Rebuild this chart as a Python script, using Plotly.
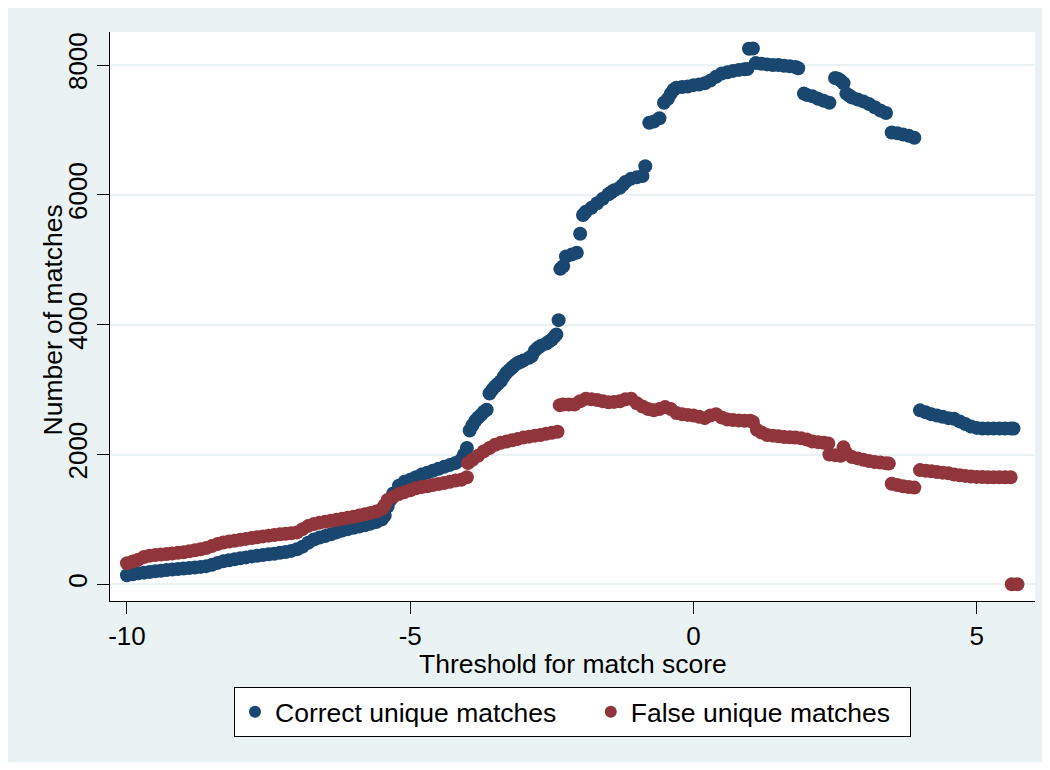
import plotly.graph_objects as go

# Threshold values (x) and number of matches (y)
correct_x = [
    -10.0, -9.9, -9.8, -9.7, -9.6, -9.5, -9.4, -9.3, -9.2, -9.1, -9.0, -8.9, -8.8,
    -8.7, -8.6, -8.5, -8.4, -8.3, -8.2, -8.1, -8.0, -7.9, -7.8, -7.7, -7.6, -7.5,
    -7.4, -7.3, -7.2, -7.1, -7.0, -6.9, -6.8, -6.7, -6.6, -6.5, -6.4, -6.3, -6.2,
    -6.1, -6.0, -5.9, -5.8, -5.7, -5.6, -5.5, -5.45, -5.4, -5.35, -5.3, -5.2, -5.1,
    -5.0, -4.9, -4.8, -4.7, -4.6, -4.5, -4.4, -4.3, -4.2, -4.1, -4.05, -4.0, -3.95,
    -3.9, -3.85, -3.8, -3.75, -3.7, -3.65, -3.6, -3.55, -3.5, -3.45, -3.4, -3.35,
    -3.3, -3.25, -3.2, -3.15, -3.1, -3.05, -3.0, -2.9, -2.85, -2.8, -2.75, -2.7,
    -2.6, -2.55, -2.5, -2.45, -2.42, -2.38, -2.35, -2.3, -2.25, -2.15, -2.06, -2.0,
    -1.95, -1.9, -1.8, -1.7, -1.6, -1.5, -1.45, -1.4, -1.3, -1.25, -1.2, -1.1, -1.0,
    -0.9, -0.85, -0.78, -0.7, -0.6, -0.52, -0.45, -0.4, -0.35, -0.3, -0.2, -0.1,
    0.0, 0.1, 0.2, 0.3, 0.4, 0.5, 0.6, 0.7, 0.8, 0.9, 0.95, 0.98, 1.05, 1.1, 1.2,
    1.3, 1.4, 1.5, 1.6, 1.7, 1.8, 1.85, 1.95, 2.0, 2.1, 2.2, 2.3, 2.4, 2.5, 2.55,
    2.6, 2.65, 2.7, 2.75, 2.8, 2.9, 3.0, 3.1, 3.2, 3.3, 3.4, 3.5, 3.6, 3.7, 3.8,
    3.9, 4.0, 4.1, 4.2, 4.3, 4.4, 4.5, 4.6, 4.7, 4.8, 4.9, 5.0, 5.1, 5.2, 5.3, 5.4,
    5.5, 5.6, 5.65,
]
correct_y = [
    140, 155, 170, 180, 190, 200, 210, 220, 228, 235, 242, 250, 258,
    268, 280, 300, 330, 355, 370, 385, 400, 415, 430, 440, 450, 462,
    472, 485, 498, 515, 540, 580, 640, 690, 720, 745, 770, 800, 830,
    850, 870, 890, 910, 935, 960, 1000, 1060, 1200, 1300, 1400, 1520, 1580,
    1610, 1650, 1690, 1720, 1750, 1780, 1810, 1840, 1870, 1920, 2000, 2100, 2370,
    2450, 2520, 2570, 2610, 2660, 2690, 2940, 3000, 3050, 3090, 3130, 3200,
    3260, 3300, 3340, 3380, 3410, 3430, 3450, 3490, 3520, 3600, 3640, 3670,
    3710, 3740, 3770, 3820, 3850, 4070, 4860, 4900, 5050, 5080, 5110, 5400,
    5690, 5740, 5800, 5870, 5940, 6010, 6040, 6070, 6110, 6150, 6200, 6250, 6270,
    6290, 6440, 7110, 7130, 7180, 7420, 7480, 7560, 7620, 7650, 7660, 7670,
    7690, 7700, 7720, 7760, 7820, 7870, 7890, 7910, 7925, 7935, 7940, 8250, 8255, 8030, 8020,
    8010, 8000, 8000, 7990, 7980, 7970, 7950, 7560, 7540, 7520, 7480, 7450, 7420, 7800, 7790,
    7760, 7720, 7560, 7530, 7500, 7470, 7440, 7400, 7350, 7300, 7260, 6960, 6950, 6930, 6910,
    6880, 2680, 2650, 2620, 2600, 2580, 2560, 2550, 2510, 2470, 2430, 2410, 2400, 2400, 2400, 2400,
    2400, 2400, 2400,
]

false_x = [
    -10.0, -9.9, -9.8, -9.7, -9.6, -9.5, -9.4, -9.3, -9.2, -9.1, -9.0, -8.9, -8.8,
    -8.7, -8.6, -8.5, -8.4, -8.3, -8.2, -8.1, -8.0, -7.9, -7.8, -7.7, -7.6, -7.5,
    -7.4, -7.3, -7.2, -7.1, -7.0, -6.9, -6.8, -6.7, -6.6, -6.5, -6.4, -6.3, -6.2,
    -6.1, -6.0, -5.9, -5.8, -5.7, -5.6, -5.5, -5.45, -5.4, -5.3, -5.2, -5.1, -5.0,
    -4.9, -4.8, -4.7, -4.6, -4.5, -4.4, -4.3, -4.2, -4.1, -4.0, -3.98, -3.9, -3.8,
    -3.7, -3.6, -3.5, -3.4, -3.3, -3.2, -3.1, -3.0, -2.9, -2.8, -2.7, -2.6, -2.5,
    -2.4, -2.36, -2.3, -2.2, -2.1, -2.0, -1.9, -1.8, -1.7, -1.6, -1.5, -1.4, -1.3,
    -1.2, -1.1, -1.0, -0.9, -0.8, -0.7, -0.6, -0.5, -0.4, -0.3, -0.2, -0.1, 0.0,
    0.1, 0.2, 0.3, 0.4, 0.5, 0.6, 0.7, 0.8, 0.9, 1.0, 1.05, 1.12, 1.2, 1.3, 1.4,
    1.5, 1.6, 1.7, 1.8, 1.9, 2.0, 2.1, 2.2, 2.3, 2.38, 2.4, 2.5, 2.6, 2.65, 2.7,
    2.8, 2.9, 3.0, 3.1, 3.2, 3.3, 3.4, 3.45, 3.5, 3.6, 3.7, 3.8, 3.9, 4.0, 4.1,
    4.2, 4.3, 4.4, 4.5, 4.6, 4.7, 4.8, 4.9, 5.0, 5.1, 5.2, 5.3, 5.4, 5.5, 5.6,
    5.62, 5.72,
]
false_y = [
    325, 350, 380, 420, 440, 450, 460, 468, 475, 485, 495, 510, 525,
    540, 560, 590, 620, 645, 660, 670, 685, 700, 712, 725, 738, 750,
    760, 770, 778, 785, 800, 850, 900, 930, 950, 965, 980, 995, 1010,
    1025, 1040, 1060, 1080, 1100, 1120, 1160, 1220, 1300, 1350, 1390, 1420, 1450,
    1480, 1500, 1510, 1530, 1545, 1560, 1580, 1600, 1610, 1650, 1870, 1920, 1980,
    2050, 2100, 2150, 2180, 2200, 2220, 2240, 2260, 2275, 2290, 2300, 2320, 2335,
    2350, 2760, 2770, 2770, 2770, 2820, 2860, 2850, 2840, 2820, 2805, 2810, 2820,
    2850, 2860, 2790, 2740, 2700, 2680, 2700, 2730, 2700, 2640, 2620, 2610, 2600,
    2580, 2560, 2600, 2620, 2570, 2540, 2530, 2525, 2520, 2520, 2500, 2380, 2340, 2300, 2290,
    2280, 2270, 2265, 2260, 2250, 2230, 2200, 2190, 2180, 2170, 2000, 1990, 1980, 2110, 2020,
    1960, 1940, 1920, 1900, 1885, 1875, 1865, 1860, 1550, 1530, 1510, 1500, 1490, 1760, 1750,
    1740, 1730, 1720, 1710, 1690, 1680, 1670, 1660, 1655, 1652, 1650, 1650, 1650, 1650, 1650,
    0, 0,
]

y_ticks = [0, 2000, 4000, 6000, 8000]
x_ticks = [-10, -5, 0, 5]
x_labels = ["-10", "-5", "0", "5"]

NAVY = "#1a476f"
MAROON = "#90353b"
BG = "#eaf2f3"
FONT = "Liberation Sans, Arial, sans-serif"
NBSP = "\u00a0"

fig = go.Figure()
# trailing no-break spaces widen the legend entries like the Stata legend box
fig.add_trace(go.Scatter(x=correct_x, y=correct_y, mode="markers",
                         name="Correct unique matches" + NBSP * 4,
                         marker=dict(color=NAVY, size=14)))
fig.add_trace(go.Scatter(x=false_x, y=false_y, mode="markers",
                         name="False unique matches" + NBSP * 2,
                         marker=dict(color=MAROON, size=14)))

# page body adds an 8px margin, so the figure is sized to sit inside it
fig.update_layout(
    width=1034, height=754,
    margin=dict(l=102, r=7, t=24, b=161),
    paper_bgcolor=BG, plot_bgcolor="white",
    font=dict(family=FONT, size=22, color="black"),
    showlegend=True,
    legend=dict(orientation="h", x=0.5, xanchor="center", y=-0.151, yanchor="top",
                bgcolor="white", bordercolor="black", borderwidth=1,
                itemsizing="constant", font=dict(size=26.5)),
)
fig.update_xaxes(range=[-10.3, 6.03], tickvals=x_ticks, ticktext=x_labels,
                 ticks="outside", ticklen=12, tickcolor="black", tickfont=dict(size=26),
                 showline=True, linecolor="black", linewidth=1,
                 showgrid=False, zeroline=False)
fig.update_yaxes(range=[-257, 8509], tickvals=y_ticks, tickangle=-90, ticks="outside",
                 ticklen=12, tickcolor="black", tickfont=dict(size=26),
                 showline=True, linecolor="black", linewidth=1,
                 showgrid=True, gridcolor=BG, gridwidth=2, zeroline=False)

# axis titles placed as annotations to match the reference spacing
fig.add_annotation(text="Threshold for match score", xref="paper", yref="paper",
                   x=0.5, y=0, xanchor="center", yanchor="middle", yshift=-63,
                   showarrow=False, font=dict(family=FONT, size=26.5, color="black"))
fig.add_annotation(text="Number of matches", xref="paper", yref="paper",
                   x=0, y=0.5, xanchor="center", yanchor="middle", xshift=-58, yshift=-4,
                   textangle=-90, showarrow=False,
                   font=dict(family=FONT, size=26.5, color="black"))

fig.write_html("out.html")
